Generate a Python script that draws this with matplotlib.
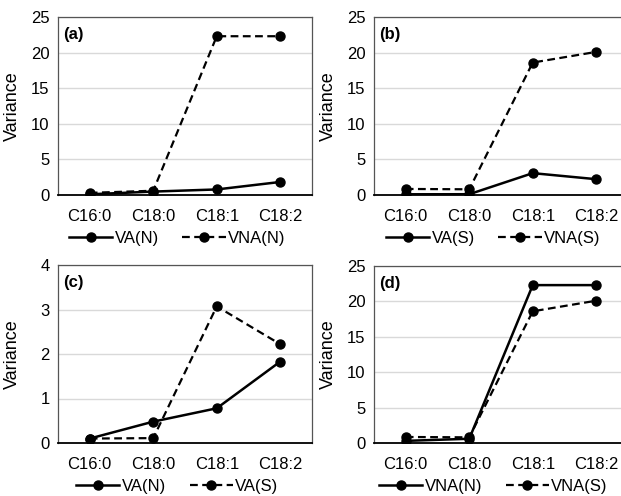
import matplotlib
matplotlib.use("Agg")
import matplotlib.pyplot as plt

plt.rcParams['font.family'] = ['Liberation Sans', 'DejaVu Sans']

categories = ["C16:0", "C18:0", "C18:1", "C18:2"]

va_n = [0.10, 0.48, 0.78, 1.83]
va_s = [0.10, 0.11, 3.07, 2.22]
vna_n = [0.30, 0.60, 22.3, 22.3]
vna_s = [0.85, 0.80, 18.6, 20.1]

panels = [
    ("(a)", va_n, vna_n, "VA(N)", "VNA(N)", 25, [0, 5, 10, 15, 20, 25]),
    ("(b)", va_s, vna_s, "VA(S)", "VNA(S)", 25, [0, 5, 10, 15, 20, 25]),
    ("(c)", va_n, va_s, "VA(N)", "VA(S)", 4, [0, 1, 2, 3, 4]),
    ("(d)", vna_n, vna_s, "VNA(N)", "VNA(S)", 25, [0, 5, 10, 15, 20, 25]),
]

W, H = 621, 496
fig = plt.figure(figsize=(W / 100, H / 100), dpi=100)

boxes = [
    (58, 312, 17, 195),
    (374, 628, 17, 195),
    (58, 312, 265, 443),
    (374, 628, 266, 443),
]

for (label, s1, s2, l1, l2, ymax, yticks), (x0, x1, yt, yb) in zip(panels, boxes):
    ax = fig.add_axes([x0 / W, 1 - yb / H, (x1 - x0) / W, (yb - yt) / H])
    x = list(range(len(categories)))
    ax.plot(x, s1, color='black', lw=1.8, marker='o', ms=6.5, label=l1)
    ax.plot(x, s2, color='black', lw=1.6, ls=(0, (3.5, 2)), marker='o', ms=6.5, label=l2)
    ax.set_xlim(-0.5, 3.5)
    ax.set_ylim(0, ymax)
    ax.set_yticks(yticks)
    ax.set_xticks(x)
    ax.set_xticklabels(categories)
    ax.tick_params(axis='both', length=0, labelsize=12)
    ax.tick_params(axis='x', pad=10)
    ax.tick_params(axis='y', pad=6)
    ax.yaxis.grid(True, color='#d9d9d9', lw=1)
    ax.set_axisbelow(True)
    for sp in ['left', 'top', 'right']:
        ax.spines[sp].set_color('#555555')
        ax.spines[sp].set_linewidth(0.9)
    ax.spines['bottom'].set_color('black')
    ax.spines['bottom'].set_linewidth(1.3)
    ax.set_ylabel("Variance", fontsize=13)
    ax.yaxis.set_label_coords(-37 / (x1 - x0), 0.5)
    ax.text(0.02, 0.945, label, transform=ax.transAxes, fontsize=12,
            fontweight='bold', va='top', ha='left')
    ax.legend(loc='center', bbox_to_anchor=(0.47, -0.245), ncol=2, frameon=False,
              fontsize=12, handlelength=2.6, columnspacing=1.4, handletextpad=0.15,
              borderaxespad=0)

fig.savefig("out.png", dpi=100)
